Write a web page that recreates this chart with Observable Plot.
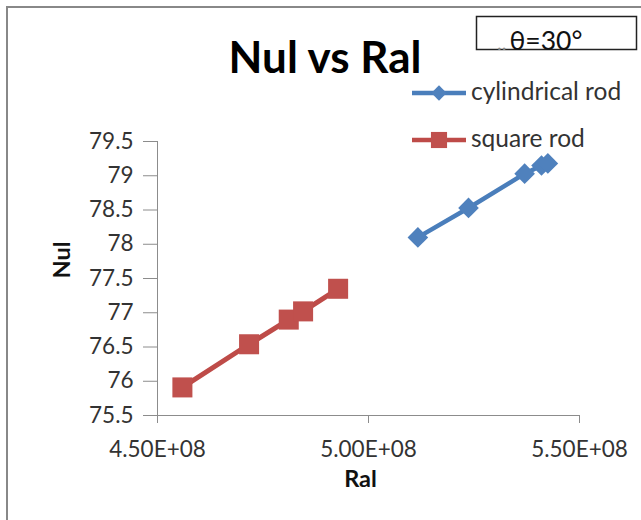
<!DOCTYPE html>
<html>
<head>
<meta charset="utf-8">
<script src="https://cdn.jsdelivr.net/npm/d3@7"></script>
<script src="https://cdn.jsdelivr.net/npm/@observablehq/plot@0.6"></script>
<style>
  body { margin: 0; background: #fff; }
  #wrap { position: relative; width: 641px; height: 520px; overflow: hidden; font-family: Lato, sans-serif; }
  #frame { position: absolute; left: 6px; top: 6px; right: -20px; bottom: -20px;
           border-top: 2.5px solid #888; border-left: 2.5px solid #888; }
  #wrap svg { position: absolute; left: 0; top: 0; }
</style>
</head>
<body>
<div id="wrap"><div id="frame"></div></div>
<script>
// Nusselt vs Rayleigh numbers at an inclination of 30°
const seriesNames = ["cylindrical rod", "square rod"];
const seriesColors = ["#4F81BD", "#C0504D"];
const lineColors = ["#4A7EBB", "#BE4B48"];

const cylRa = [5.117e8, 5.237e8, 5.370e8, 5.410e8, 5.425e8];
const cylNu = [78.10, 78.53, 79.03, 79.15, 79.18];
const sqRa = [4.559e8, 4.717e8, 4.811e8, 4.845e8, 4.928e8];
const sqNu = [75.91, 76.54, 76.90, 77.02, 77.35];

const xTicks = [4.5e8, 5.0e8, 5.5e8];
const yTicks = [75.5, 76, 76.5, 77, 77.5, 78, 78.5, 79, 79.5];

const titleText = "Nul vs Ral";
const xLabel = "Ral";
const yLabel = "Nul";
const angleNote = "θ=30°";

const axisGray = "#8c8c8c";
const textColor = "#333";

const cyl = cylRa.map((ra, i) => ({series: seriesNames[0], ra, nu: cylNu[i]}));
const sq = sqRa.map((ra, i) => ({series: seriesNames[1], ra, nu: sqNu[i]}));

// Excel-style scientific notation, e.g. 5.00E+08
function sci(d) {
  const [m, e] = d.toExponential(2).split("e");
  const sign = e[0] === "-" ? "-" : "+";
  return m.toUpperCase() + "E" + sign + e.replace(/[+-]/, "").padStart(2, "0");
}

const chart = Plot.plot({
  width: 641,
  height: 520,
  marginLeft: 157,
  marginRight: 62,
  marginTop: 141,
  marginBottom: 105,
  style: {fontFamily: "Lato, sans-serif", fontSize: "22.5px", color: textColor, background: "transparent", overflow: "visible"},
  x: {domain: [4.5e8, 5.5e8]},
  y: {domain: [75.5, 79.5]},
  marks: [
    Plot.axisY(yTicks, {tickSize: 14, tickPadding: 10, tickFormat: d => String(d), stroke: axisGray, fill: textColor, label: null}),
    Plot.axisX(xTicks, {tickSize: 8, tickPadding: 18, tickFormat: sci, stroke: axisGray, fill: textColor, label: null}),
    Plot.ruleX([4.5e8], {stroke: axisGray}),
    Plot.ruleY([75.5], {stroke: axisGray}),
    Plot.text([xLabel], {frameAnchor: "bottom", dx: -8, dy: 71, fontWeight: "bold", fontSize: 23.5, fill: "#111"}),
    Plot.text([yLabel], {frameAnchor: "left", rotate: -90, dx: -95, fontWeight: "bold", fontSize: 23.5, fill: "#111"}),
    Plot.line(sq, {x: "ra", y: "nu", stroke: lineColors[1], strokeWidth: 5, strokeLinejoin: "round"}),
    Plot.line(cyl, {x: "ra", y: "nu", stroke: lineColors[0], strokeWidth: 4.5, strokeLinejoin: "round"}),
    Plot.dot(sq, {x: "ra", y: "nu", symbol: "square", r: 11.3, fill: seriesColors[1]}),
    Plot.dot(cyl, {x: "ra", y: "nu", symbol: "diamond2", r: 9.3, fill: seriesColors[0]})
  ]
});
document.getElementById("wrap").appendChild(chart);

// Title, angle note and legend drawn on an overlay
const overlay = d3.select("#wrap").append("svg")
  .attr("width", 641).attr("height", 520)
  .style("font-family", "Lato, sans-serif");

overlay.append("text")
  .attr("x", 325).attr("y", 73)
  .attr("text-anchor", "middle")
  .attr("font-size", 44).attr("font-weight", "bold").attr("fill", "#000")
  .text(titleText);

overlay.append("rect")
  .attr("x", 476.5).attr("y", 16.5).attr("width", 160).attr("height", 33)
  .attr("fill", "none").attr("stroke", "#222").attr("stroke-width", 1.5);
const note = overlay.append("text")
  .attr("x", 497).attr("y", 50).attr("font-size", 26.5).attr("fill", "#111");
note.append("tspan").attr("fill", "#888").attr("font-size", 20).text("..");
note.append("tspan").attr("dx", 3).text(angleNote);

const legendRows = [
  {name: seriesNames[0], color: seriesColors[0], line: lineColors[0], symbol: d3.symbolDiamond2, size: 150, y: 93},
  {name: seriesNames[1], color: seriesColors[1], line: lineColors[1], symbol: d3.symbolSquare, size: 260, y: 140}
];
const leg = overlay.selectAll("g.legend").data(legendRows).join("g")
  .attr("class", "legend")
  .attr("transform", d => `translate(0,${d.y})`);
leg.append("line")
  .attr("x1", 412).attr("x2", 466).attr("y1", 0).attr("y2", 0)
  .attr("stroke", d => d.line).attr("stroke-width", 4.5);
leg.append("path")
  .attr("transform", "translate(439,0)")
  .attr("d", d => d3.symbol(d.symbol, d.size)())
  .attr("fill", d => d.color);
leg.append("text")
  .attr("x", 471).attr("y", 7)
  .attr("font-size", 24.5).attr("fill", textColor)
  .text(d => d.name);
</script>
</body>
</html>
